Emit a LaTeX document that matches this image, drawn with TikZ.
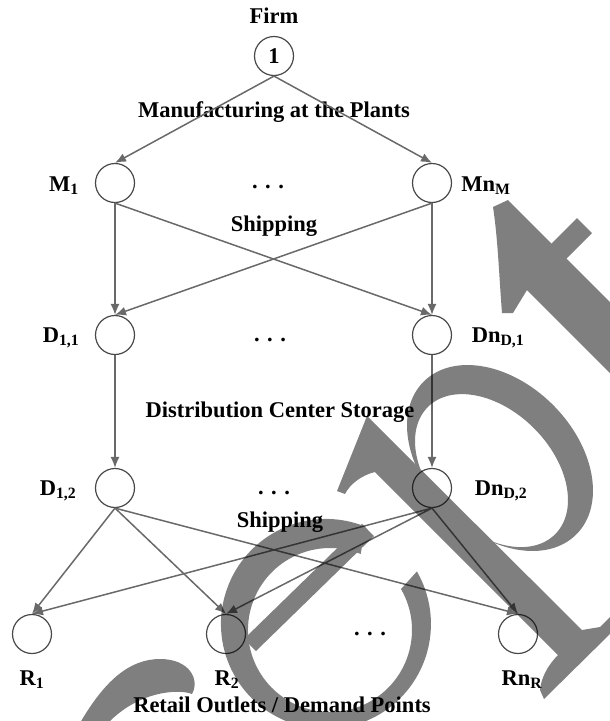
\documentclass[tikz,border=0pt]{standalone}
\usepackage{fontspec}
\setmainfont{Liberation Serif}
\usetikzlibrary{arrows.meta}
\definecolor{linegray}{RGB}{105,105,105}
\definecolor{ringgray}{RGB}{72,72,72}

\begin{document}
\begin{tikzpicture}[x=1pt, y=-1pt,
  site/.style={circle, draw=ringgray, line width=1.2pt, minimum size=39pt, inner sep=0pt,
    font=\fontsize{22.5}{27}\selectfont\bfseries},
  flow/.style={draw=linegray, line width=1.5pt, -{Latex[length=11pt,width=9pt]}},
  lbl/.style={anchor=base, inner sep=0pt, font=\fontsize{22.5}{27}\selectfont\bfseries},
  wmark/.style={fill=black}]
  \useasboundingbox (0,0) rectangle (610,721);

  % firm and plants
  \node[lbl] (firmlbl) at (274,23) {Firm};
  \node[site] (firm) at (274,56) {1};
  \node[lbl] (mfg) at (274,117) {Manufacturing at the Plants};
  \node[site] (m1) at (115,183) {};
  \node[site] (mn) at (432,183) {};
  \node[lbl] (m1lbl) at (64,191) {M\textsubscript{1}};
  \node[lbl] (mnlbl) at (486,191) {Mn\textsubscript{M}};
  \node[lbl] (mdots) at (268,188) {. . .};
  \node[lbl] (ship1) at (274,231) {Shipping};

  % distribution centers
  \node[site] (d11) at (115,335) {};
  \node[site] (dn1) at (432,335) {};
  \node[lbl] (d11lbl) at (61,342) {D\textsubscript{1,1}};
  \node[lbl] (dn1lbl) at (498,342) {Dn\textsubscript{D,1}};
  \node[lbl] (d1dots) at (270,341) {. . .};
  \node[lbl] (store) at (280,417) {Distribution Center Storage};
  \node[site] (d12) at (115,488) {};
  \node[site] (dn2) at (432,488) {};
  \node[lbl] (d12lbl) at (58,495) {D\textsubscript{1,2}};
  \node[lbl] (dn2lbl) at (501,495) {Dn\textsubscript{D,2}};
  \node[lbl] (d2dots) at (274,494) {. . .};
  \node[lbl] (ship2) at (280,527) {Shipping};

  % retail outlets
  \node[site] (r1) at (32,634) {};
  \node[site] (r2) at (226,634) {};
  \node[site] (rn) at (518,634) {};
  \node[lbl] (r1lbl) at (32,685) {R\textsubscript{1}};
  \node[lbl] (r2lbl) at (227,685) {R\textsubscript{2}};
  \node[lbl] (rnlbl) at (522,685) {Rn\textsubscript{R}};
  \node[lbl] (rdots) at (370,635) {. . .};
  \node[lbl] (retail) at (282,712) {Retail Outlets / Demand Points};

  \foreach \a/\b in {firm/m1, firm/mn, m1/d11, m1/dn1, mn/d11, mn/dn1, d11/d12, dn1/dn2,
                     d12/r1, d12/r2, d12/rn, dn2/r1, dn2/r2, dn2/rn}
    \draw[flow] (\a.south) -- (\b.north);

  % watermark letters
  \begin{scope}[transparency group, opacity=0.5]
    \clip (0,0) rectangle (610,721);
    \fill[wmark] (80,723) .. controls (105,680) and (130,659) .. (160,659)
      .. controls (190,659) and (200,680) .. (192,694)
      .. controls (180,689) and (140,690) .. (108,723) -- cycle;
    \fill[wmark] (365.3,526.6) arc[start angle=-68, end angle=-390, radius=105]
      -- (401,589) arc[start angle=-390, end angle=-68, radius=82] -- cycle;
    \draw[black, line width=17pt] (250,645) -- (368,530);
    \fill[wmark, even odd rule] (500,458) circle[x radius=108pt, y radius=75pt, rotate=-45]
      (491.5,470.6) circle[x radius=90pt, y radius=60pt, rotate=-45];
    \fill[wmark] (367,416) -- (582,630) -- (600,627) -- (612,615) -- (612,632) -- (544,699)
      -- (540,690) .. controls (541,678) and (548,665) .. (558,655) -- (375,472)
      .. controls (362,475) and (350,484) .. (345,494) -- (337,491) -- cycle;
    \fill[wmark] (493,207) -- (508,200) -- (615,307) -- (615,378) -- (527,290) -- (513,313)
      -- (502,313) .. controls (499,275) and (498,240) .. cycle;
    \fill[wmark] (577,218) -- (592,233) -- (552,273) -- (537,258) -- cycle;
  \end{scope}
\end{tikzpicture}
\end{document}
